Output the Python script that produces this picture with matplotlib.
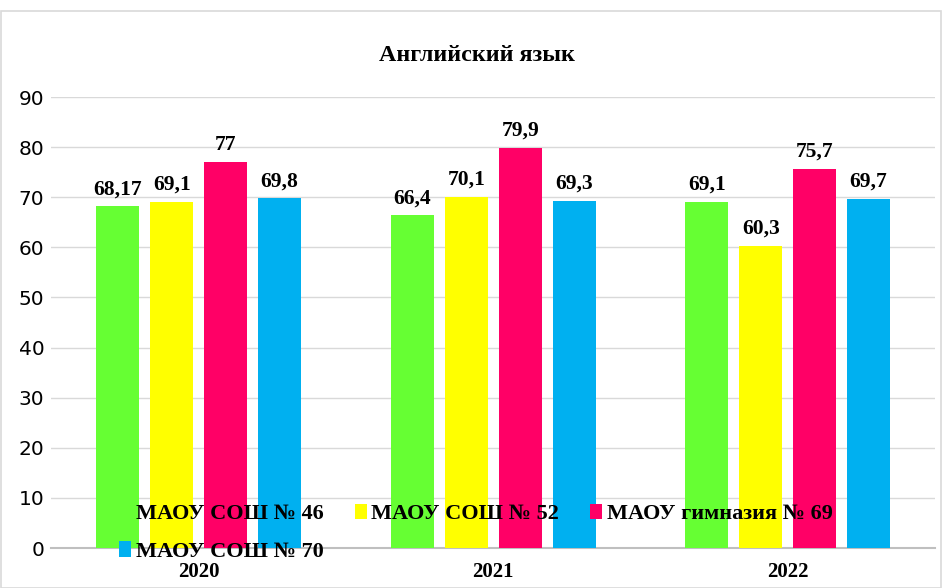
import numpy as np
import matplotlib
matplotlib.use("Agg")
import matplotlib.pyplot as plt
from matplotlib.patches import Rectangle

# data
years = ["2020", "2021", "2022"]
schools = ["МАОУ СОШ № 46", "МАОУ СОШ № 52", "МАОУ гимназия № 69", "МАОУ СОШ № 70"]
s46 = [68.17, 66.4, 69.1]
s52 = [69.1, 70.1, 60.3]
s69 = [77, 79.9, 75.7]
s70 = [69.8, 69.3, 69.7]
labels46 = ["68,17", "66,4", "69,1"]
labels52 = ["69,1", "70,1", "60,3"]
labels69 = ["77", "79,9", "75,7"]
labels70 = ["69,8", "69,3", "69,7"]
colors = ["#66ff33", "#ffff00", "#ff0066", "#00b0f0"]

serif = "Liberation Serif"

fig = plt.figure(figsize=(9.43, 5.88), dpi=100)
ax = fig.add_axes([0.0545, 0.068, 0.937, 0.767])

x = np.arange(len(years))
width = 0.146
step = 0.183
series = [s46, s52, s69, s70]
lbls = [labels46, labels52, labels69, labels70]
bars = []
for i, (vals, lab) in enumerate(zip(series, lbls)):
    pos = x + (i - 1.5) * step
    b = ax.bar(pos, vals, width, color=colors[i], label=schools[i], zorder=3)
    bars.append(b)
    for p, v, t in zip(pos, vals, lab):
        ax.text(p, v + 1.4, t, ha="center", va="bottom", fontsize=15.5,
                fontweight="bold", family=serif, zorder=4)

ax.set_xlim(-0.5, 2.5)
ax.set_ylim(0, 90)
ax.set_yticks(range(0, 91, 10))
ax.yaxis.grid(True, color="#d9d9d9", linewidth=1, zorder=0)
ax.tick_params(axis="both", length=0)
ax.tick_params(axis="y", labelsize=14.5, pad=5)
ax.set_xticks(x)
ax.set_xticklabels(years, fontsize=15, fontweight="bold", family=serif)
ax.tick_params(axis="x", pad=10)
for s in ["top", "right", "left"]:
    ax.spines[s].set_visible(False)
ax.spines["bottom"].set_color("#bfbfbf")
ax.spines["bottom"].set_linewidth(1.5)

fig.text(0.506, 0.906, "Английский язык", ha="center", va="center",
         fontsize=17.3, fontweight="bold", family=serif)

# legend fills columns first, so reorder to read row-wise
order = [0, 3, 1, 2]
leg = fig.legend(handles=[bars[k] for k in order], labels=[schools[k] for k in order],
                 ncol=3, frameon=False,
                 loc="upper left", bbox_to_anchor=(0.1145, 0.162),
                 prop={"family": serif, "weight": "bold", "size": 16},
                 handlelength=0.55, handleheight=0.7, handletextpad=0.2,
                 columnspacing=1.4, labelspacing=0.75, borderpad=0)
leg.set_zorder(5)

# outer border
fig.patches.append(Rectangle((0.001, 0.0), 0.997, 0.982, transform=fig.transFigure,
                             fill=False, edgecolor="#d9d9d9", linewidth=1.2))

fig.savefig("out.png", dpi=100)
